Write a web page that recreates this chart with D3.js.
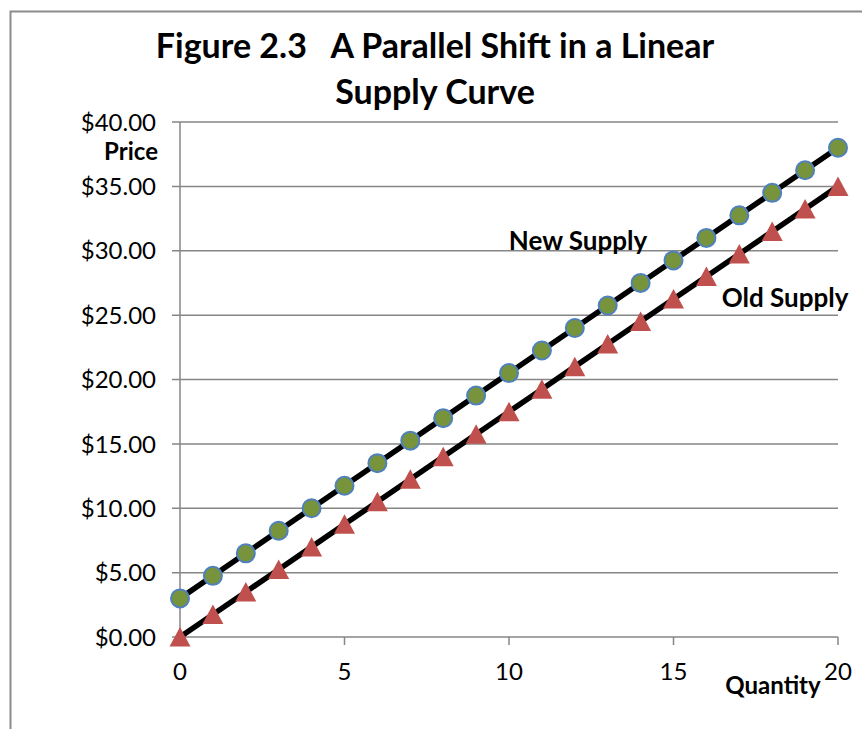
<!DOCTYPE html>
<html>
<head>
<meta charset="utf-8">
<script src="https://cdn.jsdelivr.net/npm/d3@7"></script>
<style>
  body { margin: 0; background: #fff; }
  text { font-family: Lato, "Open Sans", sans-serif; fill: #000; }
</style>
</head>
<body>
<svg id="chart"></svg>
<script>
const width = 862
const height = 729

// quantity 0..20
const quantities = [0, 1, 2, 3, 4, 5, 6, 7, 8, 9, 10, 11, 12, 13, 14, 15, 16, 17, 18, 19, 20]
const newSupply = [3, 4.75, 6.5, 8.25, 10, 11.75, 13.5, 15.25, 17, 18.75, 20.5, 22.25, 24, 25.75, 27.5, 29.25, 31, 32.75, 34.5, 36.25, 38]
const oldSupply = [0, 1.75, 3.5, 5.25, 7, 8.75, 10.5, 12.25, 14, 15.75, 17.5, 19.25, 21, 22.75, 24.5, 26.25, 28, 29.75, 31.5, 33.25, 35]
const xTicks = [0, 5, 10, 15, 20]
const yTicks = [0, 5, 10, 15, 20, 25, 30, 35, 40]
const titleLines = ['Figure 2.3   A Parallel Shift in a Linear', 'Supply Curve']

const svg = d3.select('#chart')
  .attr('width', width)
  .attr('height', height)

// outer chart border
svg.append('rect')
  .attr('x', 10.5).attr('y', 11.5)
  .attr('width', width + 20).attr('height', height + 20)
  .attr('fill', 'none')
  .attr('stroke', '#8c8c8c')
  .attr('stroke-width', 2)

const x = d3.scaleLinear().domain([0, 20]).range([180, 838])
const y = d3.scaleLinear().domain([0, 40]).range([637, 122])

// gridlines
svg.append('g')
  .selectAll('line')
  .data(yTicks)
  .join('line')
  .attr('x1', 172).attr('x2', 838)
  .attr('y1', d => y(d)).attr('y2', d => y(d))
  .attr('stroke', '#868686')
  .attr('stroke-width', 1.5)

// y axis line
svg.append('line')
  .attr('x1', x(0)).attr('x2', x(0))
  .attr('y1', y(40)).attr('y2', y(0) + 8)
  .attr('stroke', '#868686')
  .attr('stroke-width', 1.5)

// x ticks
svg.append('g')
  .selectAll('line')
  .data(xTicks)
  .join('line')
  .attr('x1', d => x(d)).attr('x2', d => x(d))
  .attr('y1', y(0)).attr('y2', y(0) + 8)
  .attr('stroke', '#868686')
  .attr('stroke-width', 1.5)

svg.append('g')
  .selectAll('text')
  .data(xTicks)
  .join('text')
  .attr('x', d => x(d))
  .attr('y', y(0) + 43)
  .attr('text-anchor', 'middle')
  .style('font-size', '24px')
  .text(d => d)

svg.append('g')
  .selectAll('text')
  .data(yTicks)
  .join('text')
  .attr('x', 156)
  .attr('y', d => y(d))
  .attr('dy', '0.36em')
  .attr('text-anchor', 'end')
  .style('font-size', '24px')
  .text(d => d3.format('$.2f')(d))

// lines
const line = d3.line()
  .x((d, i) => x(quantities[i]))
  .y(d => y(d))

const series = [
  { name: 'New', values: newSupply },
  { name: 'Old', values: oldSupply }
]

svg.append('g')
  .selectAll('path')
  .data(series)
  .join('path')
  .attr('d', d => line(d.values))
  .attr('fill', 'none')
  .attr('stroke', '#000')
  .attr('stroke-width', 5.5)

// markers
svg.append('g')
  .selectAll('circle')
  .data(newSupply)
  .join('circle')
  .attr('cx', (d, i) => x(quantities[i]))
  .attr('cy', d => y(d))
  .attr('r', 9)
  .attr('fill', '#77933c')
  .attr('stroke', '#4f81bd')
  .attr('stroke-width', 2)

// triangle box centred on the point
const triPath = 'M0,-10 L10.5,9.5 L-10.5,9.5 Z'
svg.append('g')
  .selectAll('path')
  .data(oldSupply)
  .join('path')
  .attr('transform', (d, i) => `translate(${x(quantities[i])},${y(d)})`)
  .attr('d', triPath)
  .attr('fill', '#c0504d')

// titles and labels
svg.append('g')
  .selectAll('text')
  .data(titleLines)
  .join('text')
  .attr('x', 435)
  .attr('y', (d, i) => 58 + i * 46)
  .attr('text-anchor', 'middle')
  .style('font-size', '34px')
  .style('font-weight', 'bold')
  .style('white-space', 'pre')
  .text(d => d)

const labels = [
  { text: 'Price', x: 158, y: 160, anchor: 'end', size: 24 },
  { text: 'New Supply', x: 578, y: 250, anchor: 'middle', size: 26 },
  { text: 'Old Supply', x: 785, y: 307, anchor: 'middle', size: 26 },
  { text: 'Quantity', x: 773, y: 694, anchor: 'middle', size: 24 }
]
svg.append('g')
  .selectAll('text')
  .data(labels)
  .join('text')
  .attr('x', d => d.x)
  .attr('y', d => d.y)
  .attr('text-anchor', d => d.anchor)
  .style('font-size', d => d.size + 'px')
  .style('font-weight', 'bold')
  .text(d => d.text)
</script>
</body>
</html>
